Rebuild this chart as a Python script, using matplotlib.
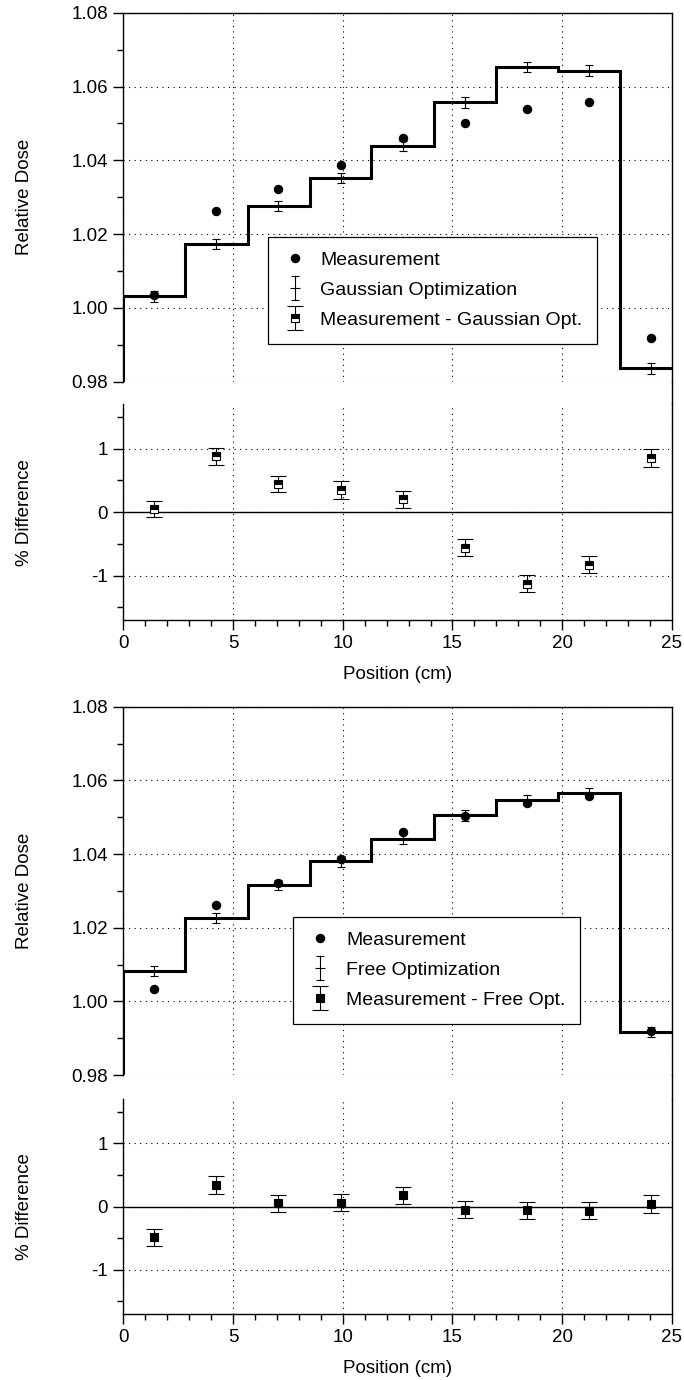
import numpy as np
import matplotlib
matplotlib.use("Agg")
import matplotlib.pyplot as plt
from matplotlib.lines import Line2D
from matplotlib.ticker import MultipleLocator
from matplotlib.container import ErrorbarContainer
from matplotlib.legend_handler import HandlerErrorbar

plt.rcParams['font.family'] = ['Liberation Sans', 'DejaVu Sans']
plt.rcParams['font.size'] = 13.5
plt.rcParams['axes.unicode_minus'] = False

# segment boundaries and centres along the profile (cm)
edges = [0.0, 2.83, 5.66, 8.49, 11.31, 14.14, 16.97, 19.80, 22.63, 25.46]
centers = [1.41, 4.24, 7.07, 9.90, 12.73, 15.56, 18.38, 21.21, 24.04]

measured = [1.0034, 1.0262, 1.0321, 1.0386, 1.0460, 1.0502, 1.0539, 1.0558, 0.9919]

gauss_opt = [1.0031, 1.0174, 1.0277, 1.0352, 1.0439, 1.0557, 1.0652, 1.0643, 0.9836]
gauss_err = [0.0014, 0.0014, 0.0014, 0.0014, 0.0014, 0.0014, 0.0014, 0.0014, 0.0014]
gauss_diff = [0.05, 0.88, 0.44, 0.35, 0.20, -0.56, -1.13, -0.83, 0.85]
gauss_diff_err = [0.13, 0.13, 0.13, 0.135, 0.135, 0.135, 0.135, 0.135, 0.14]

free_opt = [1.0082, 1.0227, 1.0316, 1.0380, 1.0441, 1.0505, 1.0547, 1.0565, 0.9917]
free_err = [0.0014, 0.0014, 0.0014, 0.0014, 0.0014, 0.0014, 0.0014, 0.0014, 0.0014]
free_diff = [-0.49, 0.34, 0.05, 0.06, 0.18, -0.05, -0.06, -0.07, 0.04]
free_diff_err = [0.13, 0.135, 0.135, 0.135, 0.135, 0.135, 0.135, 0.135, 0.14]

W, H = 684, 1380
fig = plt.figure(figsize=(W / 100, H / 100), dpi=100)

left, right = 123.4, 671.8
dotted = (0, (1, 4))
spine_lw = 1.0


def px_rect(top, bottom):
    return [left / W, 1 - bottom / H, (right - left) / W, (bottom - top) / H]


def style_ticks(ax):
    ax.tick_params(which='major', direction='out', length=7.5, width=1.0, pad=3.5,
                   labelsize=13.5)
    ax.tick_params(which='minor', direction='out', length=4, width=1.0)
    for s in ax.spines.values():
        s.set_linewidth(spine_lw)


def draw_panel(top_px, opt, opt_err, diff, diff_err, opt_label, diff_label,
               half_filled, leg_xy):
    ax = fig.add_axes(px_rect(top_px[0], top_px[1]))
    axd = fig.add_axes(px_rect(top_px[2], top_px[3]))

    # upper: dose profile
    ax.set_xlim(0, 25)
    ax.set_ylim(0.98, 1.08)
    ax.xaxis.set_major_locator(MultipleLocator(5))
    ax.yaxis.set_major_locator(MultipleLocator(0.02))
    ax.yaxis.set_minor_locator(MultipleLocator(0.01))
    ax.yaxis.set_major_formatter(matplotlib.ticker.FormatStrFormatter('%.2f'))
    ax.grid(True, which='major', color='k', linestyle=dotted, linewidth=0.8)
    ax.spines['bottom'].set_visible(False)
    style_ticks(ax)
    ax.tick_params(axis='x', which='both', length=0, labelbottom=False)

    ax.stairs(opt, edges, baseline=0.9, color='k', linewidth=2.2, zorder=2,
              joinstyle='miter')
    ax.plot(centers, measured, 'o', color='k', ms=5.8, zorder=3,
            label='Measurement')
    eb = ax.errorbar(centers, opt, yerr=opt_err, fmt='_', color='k', ms=7,
                     mew=0.8, elinewidth=0.8, capsize=2.8, capthick=0.8,
                     zorder=3, label=opt_label)

    # lower: percent difference
    axd.set_xlim(0, 25)
    axd.set_ylim(-1.7, 1.7)
    axd.xaxis.set_major_locator(MultipleLocator(5))
    axd.xaxis.set_minor_locator(MultipleLocator(1))
    axd.yaxis.set_major_locator(MultipleLocator(1))
    axd.yaxis.set_minor_locator(MultipleLocator(0.5))
    axd.grid(True, which='major', color='k', linestyle=dotted, linewidth=0.8)
    axd.axhline(0, color='k', linewidth=1.0, zorder=2)
    axd.spines['top'].set_visible(False)
    style_ticks(axd)

    if half_filled:
        mk = dict(mfc='k', markerfacecoloralt='white', fillstyle='top')
    else:
        mk = dict(mfc='k')
    ebd = axd.errorbar(centers, diff, yerr=diff_err, fmt='s', color='k', ms=5.5,
                       mec='k', mew=0.8, elinewidth=0.8, capsize=5.8,
                       capthick=0.8, zorder=3, label=diff_label, **mk)

    ax.set_ylabel('Relative Dose')
    axd.set_ylabel('% Difference')
    axd.set_xlabel('Position (cm)', labelpad=10)
    ax.yaxis.set_label_coords(-0.165, 0.5)
    axd.yaxis.set_label_coords(-0.165, 0.5)

    # right-hand frame line runs through the gap between the two axes
    fig.add_artist(Line2D([right / W, right / W],
                          [1 - top_px[1] / H, 1 - top_px[2] / H],
                          transform=fig.transFigure, color='k',
                          linewidth=spine_lw))

    handles = [ax.lines[0], eb, ebd]
    labels = ['Measurement', opt_label, diff_label]
    leg = ax.legend(handles, labels, loc='upper left', bbox_to_anchor=leg_xy,
                    borderaxespad=0, fancybox=False, framealpha=1,
                    edgecolor='k', borderpad=0.74, handlelength=1.3,
                    handletextpad=0.67, labelspacing=0.65, fontsize=14,
                    handler_map={ErrorbarContainer: HandlerErrorbar(yerr_size=0.62)})
    leg.get_frame().set_linewidth(0.9)
    leg.set_zorder(5)


draw_panel((12.7, 381.7, 404.3, 620.0), gauss_opt, gauss_err, gauss_diff,
           gauss_diff_err, 'Gaussian Optimization', 'Measurement - Gaussian Opt.',
           True, (0.263, 0.393))
draw_panel((706.7, 1075.0, 1099.0, 1314.0), free_opt, free_err, free_diff,
           free_diff_err, 'Free Optimization', 'Measurement - Free Opt.',
           False, (0.310, 0.430))

fig.savefig('out.png', dpi=100)
